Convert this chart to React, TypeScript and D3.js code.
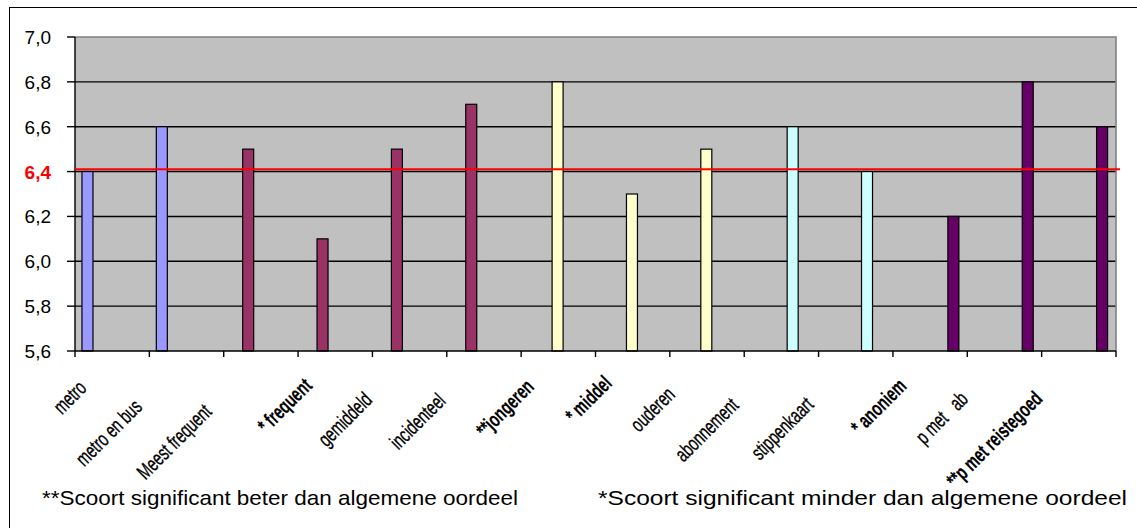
import React, { useEffect, useRef } from "react";
import * as d3 from "d3";

// Satisfaction scores per respondent group (scale 5,6 – 7,0)
const categories = [
  "metro",
  "metro en bus",
  "Meest frequent",
  "* frequent",
  "gemiddeld",
  "incidenteel",
  "**jongeren",
  "* middel",
  "ouderen",
  "abonnement",
  "stippenkaart",
  "* anoniem",
  "p met   ab",
  "**p met reistegoed",
];
const scores = [6.4, 6.6, 6.5, 6.1, 6.5, 6.7, 6.8, 6.3, 6.5, 6.6, 6.4, 6.2, 6.8, 6.6];
// which breakdown each group belongs to (index into groupColors)
const groupOf = [0, 0, 1, 1, 1, 1, 2, 2, 2, 3, 3, 4, 4, 4];
const groupNames = ["vervoer", "frequentie", "leeftijd", "vervoerbewijs", "betaalwijze"];
const groupColors = ["#9999FF", "#993366", "#FFFFCC", "#CCFFFF", "#660066"];
// groups whose score differs significantly (drawn bold)
const isSignificant = [false, false, false, true, false, false, true, true, false, false, false, true, false, true];
const overallScore = 6.41;
const yTicks = [5.6, 5.8, 6.0, 6.2, 6.4, 6.6, 6.8, 7.0];
const highlightTick = 6.4;
const footnoteBetter = "**Scoort significant beter dan algemene oordeel";
const footnoteWorse = "*Scoort significant minder dan algemene oordeel";

const W = 1137;
const H = 528;
const FONT = "Arial, 'Liberation Sans', sans-serif";
const plot = { left: 75, right: 1116, top: 37, bottom: 351 };
const LABEL_SIZE = 21;

export default function App() {
  const ref = useRef<SVGSVGElement>(null);

  useEffect(() => {
    const svg = d3.select(ref.current as SVGSVGElement);
    svg.selectAll("*").remove();
    svg.style("font-family", FONT);

    // outer chart frame
    svg.append("rect")
      .attr("x", 9.5).attr("y", 7.5)
      .attr("width", 1140).attr("height", 530)
      .attr("fill", "#fff").attr("stroke", "#000").attr("stroke-width", 1);

    const x = d3.scaleBand<number>()
      .domain(d3.range(categories.length))
      .range([plot.left, plot.right])
      .paddingInner(0).paddingOuter(0);
    const xs = d3.scaleBand<number>()
      .domain(d3.range(groupNames.length))
      .range([0, x.bandwidth()])
      .paddingInner(0).paddingOuter(0.6).align(0.45);
    const y = d3.scaleLinear().domain([5.6, 7.0]).range([plot.bottom, plot.top]);

    // plot background
    svg.append("rect")
      .attr("x", plot.left).attr("y", plot.top)
      .attr("width", plot.right - plot.left).attr("height", plot.bottom - plot.top)
      .attr("fill", "#C0C0C0");

    // horizontal gridlines
    svg.append("g").selectAll("line")
      .data(yTicks.filter((t) => t > 5.6 && t < 7.0))
      .join("line")
      .attr("x1", plot.left).attr("x2", plot.right)
      .attr("y1", (d) => y(d)).attr("y2", (d) => y(d))
      .attr("stroke", "#000").attr("stroke-width", 1.4);

    // plot border (top & right)
    svg.append("path")
      .attr("d", `M${plot.left},${plot.top}H${plot.right}V${plot.bottom}`)
      .attr("fill", "none").attr("stroke", "#808080").attr("stroke-width", 1.6);

    // bars
    svg.append("g").selectAll("rect")
      .data(scores.map((v, i) => ({ v, i })))
      .join("rect")
      .attr("x", (d) => (x(d.i) as number) + (xs(groupOf[d.i]) as number) + 0.5)
      .attr("width", xs.bandwidth() - 1)
      .attr("y", (d) => y(d.v))
      .attr("height", (d) => y(5.6) - y(d.v))
      .attr("fill", (d) => groupColors[groupOf[d.i]])
      .attr("stroke", "#000").attr("stroke-width", 1.2);

    // axes lines
    svg.append("line")
      .attr("x1", plot.left).attr("x2", plot.left)
      .attr("y1", plot.top).attr("y2", plot.bottom)
      .attr("stroke", "#000").attr("stroke-width", 1.4);
    svg.append("line")
      .attr("x1", plot.left).attr("x2", plot.right)
      .attr("y1", plot.bottom).attr("y2", plot.bottom)
      .attr("stroke", "#000").attr("stroke-width", 1.4);

    // y ticks + labels
    const yg = svg.append("g");
    yg.selectAll("line")
      .data(yTicks)
      .join("line")
      .attr("x1", plot.left - 8).attr("x2", plot.left)
      .attr("y1", (d) => y(d)).attr("y2", (d) => y(d))
      .attr("stroke", "#000").attr("stroke-width", 1.4);
    yg.selectAll("text")
      .data(yTicks)
      .join("text")
      .attr("x", 51)
      .attr("y", (d) => y(d) + 7)
      .attr("text-anchor", "end")
      .attr("font-size", 19)
      .attr("font-weight", (d) => (Math.abs(d - highlightTick) < 1e-9 ? 700 : 400))
      .attr("fill", (d) => (Math.abs(d - highlightTick) < 1e-9 ? "#FF0000" : "#000"))
      .text((d) => d3.format(".1f")(d).replace(".", ","));

    // x ticks at category boundaries
    const bounds = d3.range(categories.length + 1).map((i) =>
      i < categories.length ? (x(i) as number) : plot.right
    );
    svg.append("g").selectAll("line")
      .data(bounds)
      .join("line")
      .attr("x1", (d) => d).attr("x2", (d) => d)
      .attr("y1", plot.bottom).attr("y2", plot.bottom + 6)
      .attr("stroke", "#000").attr("stroke-width", 1.4);

    // overall score reference line
    svg.append("line")
      .attr("x1", plot.left).attr("x2", plot.right + 4)
      .attr("y1", y(overallScore)).attr("y2", y(overallScore))
      .attr("stroke", "#FF0000").attr("stroke-width", 2);

    // rotated category labels (condensed glyphs)
    const lg = svg.append("g");
    categories.forEach((label, i) => {
      const bold = isSignificant[i];
      const t = lg.append("text")
        .attr("font-size", LABEL_SIZE)
        .attr("font-weight", bold ? 700 : 400)
        .attr("stroke", "#000")
        .attr("stroke-width", bold ? 0.2 : 0.35)
        .style("white-space", "pre")
        .text(label);
      const natural = (t.node() as SVGTextElement).getComputedTextLength();
      const em = natural / LABEL_SIZE;
      const s = bold ? 20 + 4.5 * em : 23.8 + 8.1 * em;
      const cx = (x(i) as number) + x.bandwidth() / 2;
      const ex = cx - 0.707 * s + 7;
      const ey = plot.bottom + 0.707 * s + 7;
      t.attr("x", ex).attr("y", ey)
        .attr("text-anchor", "end")
        .attr("transform", `rotate(-45 ${ex} ${ey})`)
        .attr("textLength", natural * 0.68)
        .attr("lengthAdjust", "spacingAndGlyphs");
    });

    // footnotes
    svg.append("text")
      .attr("x", 42).attr("y", 505)
      .attr("font-size", 21)
      .attr("textLength", 476).attr("lengthAdjust", "spacingAndGlyphs")
      .text(footnoteBetter);
    svg.append("text")
      .attr("x", 598).attr("y", 505)
      .attr("font-size", 21)
      .attr("textLength", 529).attr("lengthAdjust", "spacingAndGlyphs")
      .text(footnoteWorse);
  }, []);

  return (
    <div style={{ position: "absolute", left: 0, top: 0 }}>
      <svg ref={ref} width={W} height={H} style={{ display: "block" }} />
    </div>
  );
}
